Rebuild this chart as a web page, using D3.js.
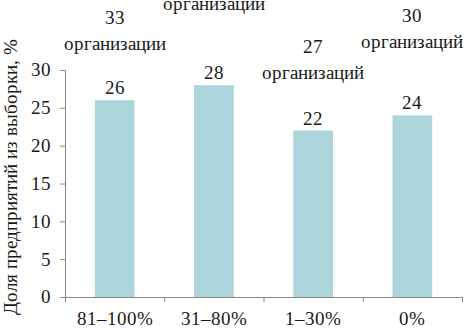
<!DOCTYPE html>
<html>
<head>
<meta charset="utf-8">
<script src="https://cdn.jsdelivr.net/npm/d3@7"></script>
<style>
  @font-face { font-family: "RefSerif"; src: local("Liberation Serif"), local("LiberationSerif"), local("Times New Roman"), local("DejaVu Serif"); }
  body { margin: 0; background: #fff; }
  svg text { font-family: "RefSerif", "Liberation Serif", "Times New Roman", serif !important; }
</style>
</head>
<body>
<div id="graph"></div>
<script>
const categories = ["81–100%", "31–80%", "1–30%", "0%"];
const shares = [26, 28, 22, 24];
const orgCounts = ["33", "35", "27", "30"];
const orgWords = ["организации", "организаций", "организаций", "организаций"];
const yTicks = [0, 5, 10, 15, 20, 25, 30];
// where the hand-placed annotations sit, in axis units
const noteLevel = [32.6, 37.9, 28.8, 32.9];

const width = 465, height = 329;
const plotLeft = 65, plotRight = 462, plotTop = 70, plotBottom = 297;
const fontSize = "18.5px";
const ink = "#1a1a1a";

const svg = d3.select("#graph").append("svg")
  .attr("width", width).attr("height", height)
  .style("display", "block");

const x = d3.scaleBand().domain(categories).range([plotLeft, plotRight]).paddingInner(0.6).paddingOuter(0.3);
const y = d3.scaleLinear().domain([0, 30]).range([plotBottom, plotTop]);

function label(sel) {
  sel.attr("font-size", fontSize).attr("fill", ink);
}

// bars
svg.selectAll("rect.bar").data(shares).enter().append("rect")
  .attr("class", "bar")
  .attr("x", (d, i) => x(categories[i]))
  .attr("y", d => y(d))
  .attr("width", x.bandwidth())
  .attr("height", d => y(0) - y(d))
  .attr("fill", "#acd5db");

// y axis
const yAxis = svg.append("g")
  .attr("transform", "translate(" + plotLeft + ",0)")
  .call(d3.axisLeft(y).tickValues(yTicks).tickSize(5).tickPadding(9));
yAxis.attr("font-family", null).attr("font-size", null);
yAxis.select(".domain").attr("stroke", "#888");
yAxis.selectAll(".tick line").attr("stroke", "#888");
yAxis.selectAll(".tick text").call(label);

// x axis with ticks between categories
const xEdge = d3.scaleLinear().domain([0, categories.length]).range([plotLeft, plotRight]);
const xAxis = svg.append("g")
  .attr("transform", "translate(0," + plotBottom + ")")
  .call(d3.axisBottom(xEdge).tickValues(d3.range(categories.length + 1)).tickSize(5).tickFormat(""));
xAxis.select(".domain").attr("stroke", "#888");
xAxis.selectAll(".tick line").attr("stroke", "#888");

svg.selectAll("text.cat").data(categories).enter().append("text")
  .attr("class", "cat")
  .attr("x", d => x(d) + x.bandwidth() / 2)
  .attr("y", 325)
  .attr("text-anchor", "middle")
  .call(label)
  .text(d => d);

// value labels
svg.selectAll("text.val").data(shares).enter().append("text")
  .attr("class", "val")
  .attr("x", (d, i) => x(categories[i]) + x.bandwidth() / 2)
  .attr("y", d => y(d) - 6)
  .attr("text-anchor", "middle")
  .call(label)
  .text(d => d);

// organisation notes
noteLevel.forEach((lv, i) => {
  const cx = x(categories[i]) + x.bandwidth() / 2;
  svg.append("text")
    .attr("x", cx).attr("y", y(lv) - 26)
    .attr("text-anchor", "middle")
    .call(label)
    .text(orgCounts[i]);
  svg.append("text")
    .attr("x", cx).attr("y", y(lv))
    .attr("text-anchor", "middle")
    .call(label)
    .text(orgWords[i]);
});

// y title
svg.append("text")
  .attr("transform", "translate(17," + 177 + ") rotate(-90)")
  .attr("text-anchor", "middle")
  .call(label)
  .text("Доля предприятий из выборки, %");
</script>
</body>
</html>
